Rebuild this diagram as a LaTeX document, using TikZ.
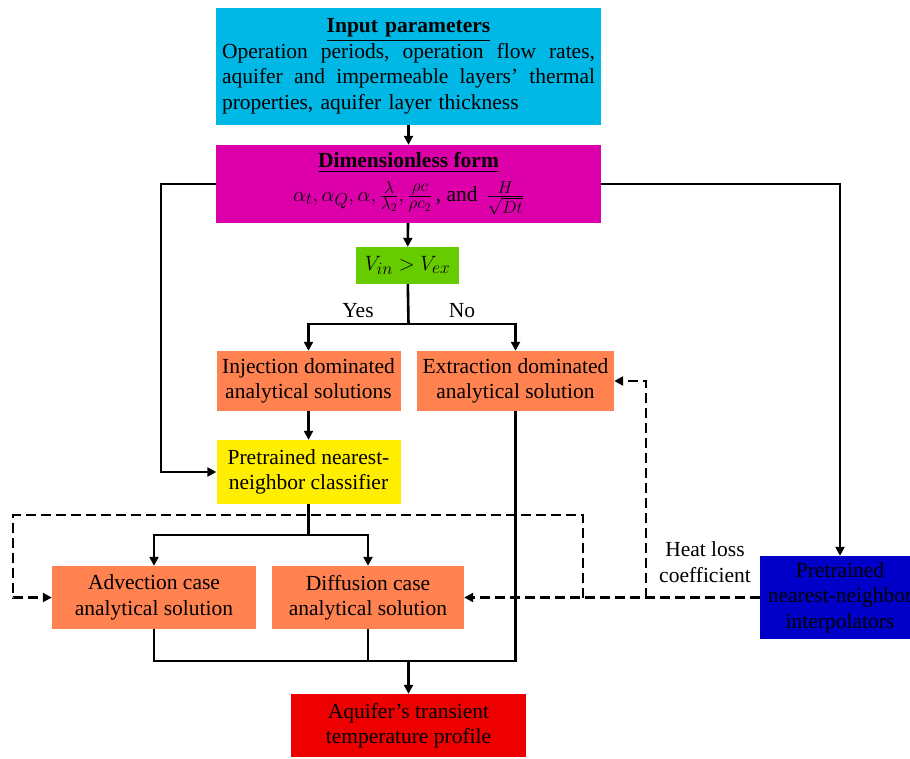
\documentclass[tikz,border=0pt]{standalone}
\usepackage{amsmath}
\usepackage{fontspec}
\setmainfont{Liberation Serif}
\usepackage{xcolor}
\usetikzlibrary{arrows.meta,positioning}
\DeclareMathSizes{21.5}{21.5}{17}{13}

\definecolor{inputcyan}{RGB}{0,184,230}
\definecolor{formmagenta}{RGB}{221,0,170}
\definecolor{checkgreen}{RGB}{102,204,0}
\definecolor{solorange}{RGB}{255,130,80}
\definecolor{classyellow}{RGB}{255,238,0}
\definecolor{interpblue}{RGB}{0,0,200}
\definecolor{outred}{RGB}{238,0,0}

\begin{document}
\begin{tikzpicture}[x=1pt,y=-1pt,
    box/.style={rectangle,inner sep=3pt,align=center,font=\fontsize{21.5}{25.5}\selectfont},
    link/.style={line width=2.6pt},
    flow/.style={line width=2.6pt,-{Triangle[length=9pt,width=9pt]}},
    dashflow/.style={line width=2.6pt,dash pattern=on 10pt off 5pt,-{Triangle[length=9pt,width=9pt]}}]
    \useasboundingbox (0,0) rectangle (910,759);

    \node[box,fill=inputcyan,minimum width=385pt,minimum height=117pt,text width=373pt,align=left] (input) at (408.5,66.5)
        {\leavevmode\hbox to 373pt{\hfil\underline{\textbf{Input parameters}}\hfil}\\
         \leavevmode\hbox to 373pt{Operation\hfill periods,\hfill operation\hfill flow\hfill rates,}\\
         \leavevmode\hbox to 373pt{aquifer\hfill and\hfill impermeable\hfill layers'\hfill thermal}\\
         properties, aquifer layer thickness};
    \node[box,fill=formmagenta,minimum width=385pt,minimum height=78pt] (dimless) at (408.5,184)
        {\underline{\textbf{Dimensionless form}}\\[8pt]
         $\alpha_t, \alpha_Q, \alpha, \frac{\lambda}{\lambda_2}, \frac{\rho c}{\rho c_2}$\,, and\, $\frac{H}{\sqrt{Dt}}$};
    \node[box,fill=checkgreen,minimum width=103pt,minimum height=37pt] (vcheck) at (407.5,265.5) {$V_{in} > V_{ex}$};

    \node[box,fill=solorange,minimum width=184pt,minimum height=60pt] (inject) at (308.5,381) {Injection dominated\\analytical solutions};
    \node[box,fill=solorange,minimum width=197pt,minimum height=60pt] (extract) at (515.5,381) {Extraction dominated\\analytical solution};
    \node[box,fill=classyellow,minimum width=184pt,minimum height=64pt] (classify) at (308.5,472) {Pretrained nearest-\\neighbor classifier};

    \node[box,fill=solorange,minimum width=204pt,minimum height=63pt] (advect) at (154,597.5) {Advection case\\analytical solution};
    \node[box,fill=solorange,minimum width=192pt,minimum height=63pt] (diffuse) at (368,597.5) {Diffusion case\\analytical solution};
    \node[box,fill=interpblue,minimum width=160pt,minimum height=83pt] (interp) at (840,597.5) {Pretrained\\nearest-neighbor\\interpolators};
    \node[box,fill=outred,minimum width=235pt,minimum height=63pt] (aquifer) at (408.5,725.5) {Aquifer's transient\\temperature profile};

    \node[box,inner sep=0pt] (heatloss) at (705,562) {Heat loss\\coefficient};
    \node[box,inner sep=0pt] (yes) at (358,311) {Yes};
    \node[box,inner sep=0pt] (no) at (462,311) {No};

    \coordinate (split) at (408.5,324);
    \coordinate (fork) at (308.5,535);
    \coordinate (merge) at (408.5,661);
    \coordinate (hl) at (646,597.5);
    \coordinate (dr) at (583,597.5);
    \coordinate (dl) at (13,515);

    \draw[flow] (input) -- (dimless);
    \draw[flow] (dimless) -- (vcheck);
    \draw[link] (vcheck) -- (split);
    \draw[flow] (split) -| (inject);
    \draw[flow] (split) -| (extract);
    \draw[flow] (inject) -- (classify);
    \draw[flow] (dimless.west) -- ++(-55,0) |- (classify.west);
    \draw[flow] (dimless.east) -| (interp.north);

    \draw[link] (classify) -- (fork);
    \draw[flow] (fork) -| (advect);
    \draw[flow] (fork) -| (diffuse);

    \draw[link] (advect.south) |- (extract.south |- merge) -- (extract.south);
    \draw[link] (diffuse.south) -- (diffuse.south |- merge);
    \draw[flow] (merge) -- (aquifer);

    \draw[dashflow] (interp.west) -- (diffuse.east);
    \draw[dashflow] (hl) |- (extract.east);
    \draw[dashflow] (dr) |- (dl) |- (advect.west);
\end{tikzpicture}
\end{document}
